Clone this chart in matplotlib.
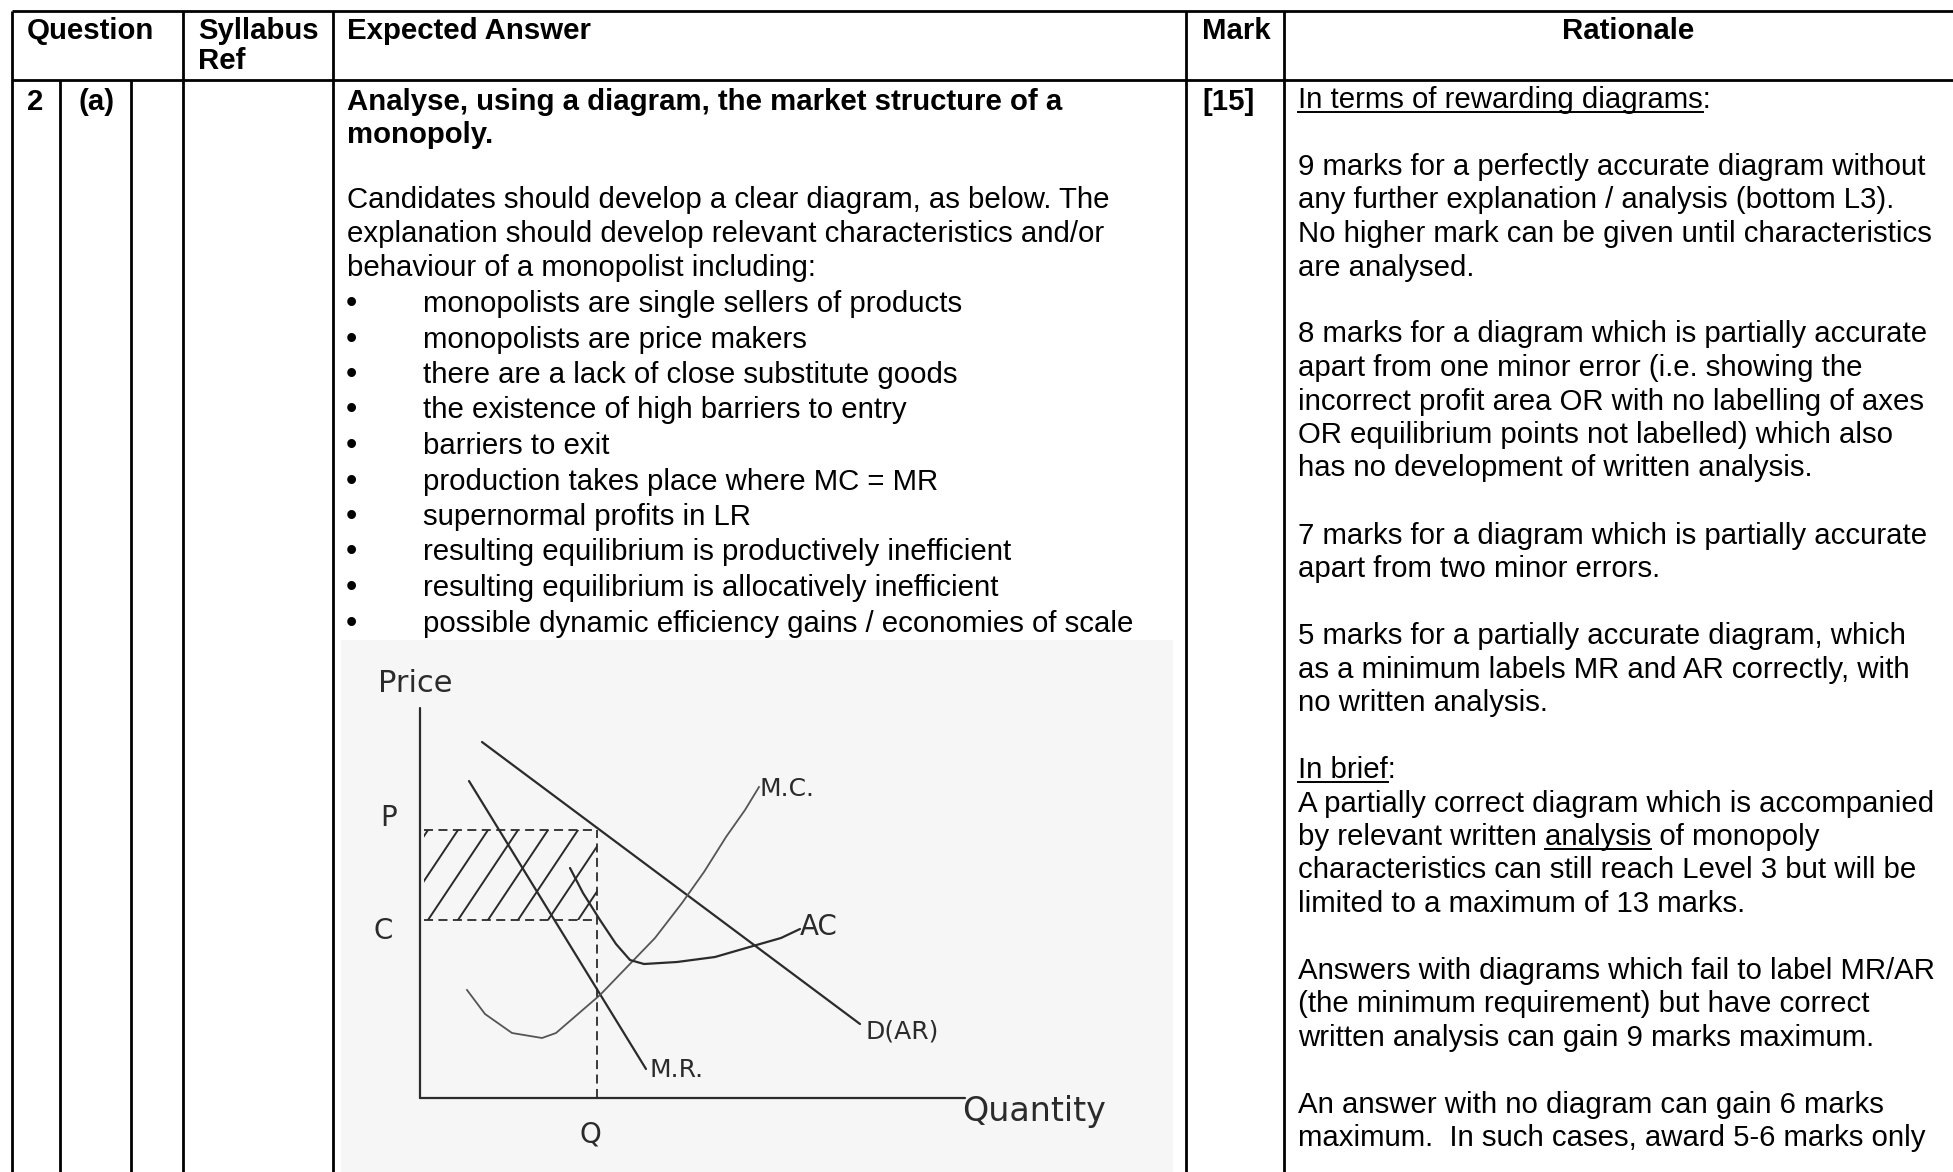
import numpy as np
import matplotlib.pyplot as plt
from matplotlib.patches import Rectangle

plt.rcParams['font.family'] = ['Liberation Sans', 'DejaVu Sans']

W, H = 1953, 1172
FS = 21.2          # table text size
PEN = '#2b2b2b'    # colour of the hand drawn diagram

# ---------------- table content ----------------
header_labels = ['Question', 'Syllabus\nRef', 'Expected Answer', 'Mark', 'Rationale']
header_x = [27, 198, 347, 1202, 1562]
col_lines = [12, 183, 333, 1186, 1284]   # rules over the full height
sub_col_lines = [60, 131]                # rules below the header only

question_no = '2'
question_part = '(a)'
mark_value = '[15]'

question_lines = ['Analyse, using a diagram, the market structure of a',
                  'monopoly.']
intro_lines = ['Candidates should develop a clear diagram, as below. The',
               'explanation should develop relevant characteristics and/or',
               'behaviour of a monopolist including:']
bullet_points = ['monopolists are single sellers of products',
                 'monopolists are price makers',
                 'there are a lack of close substitute goods',
                 'the existence of high barriers to entry',
                 'barriers to exit',
                 'production takes place where MC = MR',
                 'supernormal profits in LR',
                 'resulting equilibrium is productively inefficient',
                 'resulting equilibrium is allocatively inefficient',
                 'possible dynamic efficiency gains / economies of scale']

rationale_lines = ['In terms of rewarding diagrams:',
                   '',
                   '9 marks for a perfectly accurate diagram without',
                   'any further explanation / analysis (bottom L3).',
                   'No higher mark can be given until characteristics',
                   'are analysed.',
                   '',
                   '8 marks for a diagram which is partially accurate',
                   'apart from one minor error (i.e. showing the',
                   'incorrect profit area OR with no labelling of axes',
                   'OR equilibrium points not labelled) which also',
                   'has no development of written analysis.',
                   '',
                   '7 marks for a diagram which is partially accurate',
                   'apart from two minor errors.',
                   '',
                   '5 marks for a partially accurate diagram, which',
                   'as a minimum labels MR and AR correctly, with',
                   'no written analysis.',
                   '',
                   'In brief:',
                   'A partially correct diagram which is accompanied',
                   'by relevant written analysis of monopoly',
                   'characteristics can still reach Level 3 but will be',
                   'limited to a maximum of 13 marks.',
                   '',
                   'Answers with diagrams which fail to label MR/AR',
                   '(the minimum requirement) but have correct',
                   'written analysis can gain 9 marks maximum.',
                   '',
                   'An answer with no diagram can gain 6 marks',
                   'maximum.  In such cases, award 5-6 marks only']
rationale_underline = {0: 'In terms of rewarding diagrams',
                       20: 'In brief',
                       22: 'analysis'}

# ---------------- monopoly diagram ----------------
demand_q = [62, 440]
demand_p = [356, 74]
mr_q = [49, 226]
mr_p = [317, 29]
mc_q = [47, 65, 92, 122, 136, 158, 180, 207, 235, 262, 284, 306, 325, 339]
mc_p = [108, 84, 65, 60, 65, 84, 103, 131, 160, 195, 226, 261, 288, 311]
ac_q = [150, 163, 180, 196, 210, 224, 257, 295, 333, 361, 380]
ac_p = [230, 205, 178, 154, 138, 134, 136, 141, 152, 160, 169]
price_level = 268
cost_level = 178
output_q = 177
axis_top = 390
axis_right = 545
hatch_start = [-52, -22, 8, 38, 68, 98, 128, 158]

fig = plt.figure(figsize=(W / 100, H / 100), dpi=100)
ax = fig.add_axes([0, 0, 1, 1])
ax.set_xlim(0, W)
ax.set_ylim(H, 0)
ax.axis('off')

# table rules
lw = 2.0
ax.plot([12, W], [11, 11], color='black', lw=lw, solid_capstyle='butt')
ax.plot([12, W], [80, 80], color='black', lw=lw, solid_capstyle='butt')
for x in col_lines:
    ax.plot([x, x], [11, H], color='black', lw=lw, solid_capstyle='butt')
for x in sub_col_lines:
    ax.plot([x, x], [80, H], color='black', lw=lw, solid_capstyle='butt')

# header
for lab, x in zip(header_labels, header_x):
    for i, part in enumerate(lab.split('\n')):
        ax.text(x, 39 + 30 * i, part, fontsize=FS, fontweight='bold', va='baseline')

# question row
base0 = 110
ax.text(27, base0, question_no, fontsize=FS, fontweight='bold', va='baseline')
ax.text(78, base0, question_part, fontsize=FS, fontweight='bold', va='baseline')
ax.text(1202, base0, mark_value, fontsize=FS, fontweight='bold', va='baseline')

for k, s in enumerate(question_lines):
    ax.text(347, base0 + 33 * k, s, fontsize=FS, fontweight='bold', va='baseline')
for k, s in enumerate(intro_lines):
    ax.text(347, 208 + 34 * k, s, fontsize=FS, va='baseline')
for k, s in enumerate(bullet_points):
    y = 312 + 35.5 * k
    ax.text(346, y, '\u2022', fontsize=FS + 2, va='baseline')
    ax.text(423, y, s, fontsize=FS, va='baseline')

# rationale column with underlined pieces
r = fig.canvas.get_renderer()


def text_width(s):
    t = ax.text(0, 0, s, fontsize=FS)
    w = t.get_window_extent(renderer=r).width
    t.remove()
    return w


pitch_r = 33.5
for k, s in enumerate(rationale_lines):
    if not s:
        continue
    y = 108 + pitch_r * k
    ax.text(1298, y, s, fontsize=FS, va='baseline')
    if k in rationale_underline:
        piece = rationale_underline[k]
        end = text_width(s[:s.index(piece) + len(piece)])
        start = end - text_width(piece)
        ax.plot([1298 + start, 1298 + end], [y + 4, y + 4], color='black', lw=1.4)

# ---------------- diagram in its own axes (units = pixels from origin) ----------------
ox, oy = 420, 1098
left, top, right = 341, 640, 1173
ax2 = fig.add_axes([left / W, 0, (right - left) / W, (H - top) / H])
ax2.set_xlim(left - ox, right - ox)
ax2.set_ylim(oy - H, oy - top)
ax2.set_facecolor('#f6f6f6')
for sp in ax2.spines.values():
    sp.set_visible(False)
ax2.set_xticks([])
ax2.set_yticks([])

pen = dict(color=PEN, lw=1.6, solid_capstyle='round')
ax2.plot([0, 0], [0, axis_top], **pen)
ax2.plot([0, axis_right], [0, 0], **pen)
ax2.plot(demand_q, demand_p, **pen)
ax2.plot(mr_q, mr_p, **pen)
ax2.plot(mc_q, mc_p, color='#555555', lw=1.3)
ax2.plot(ac_q, ac_p, **pen)

dash = dict(color=PEN, lw=1.3, dashes=(5, 3))
ax2.plot([4, output_q], [price_level, price_level], **dash)
ax2.plot([4, output_q], [cost_level, cost_level], **dash)
ax2.plot([output_q, output_q], [0, price_level], **dash)

box = Rectangle((4, cost_level), output_q - 4, price_level - cost_level,
                fill=False, lw=0, transform=ax2.transData)
ax2.add_patch(box)
for q0 in hatch_start:
    ln, = ax2.plot([q0, q0 + 60], [cost_level, price_level], color=PEN, lw=1.4)
    ln.set_clip_path(box)

hand = dict(family='DejaVu Sans', color=PEN, va='center')
ax2.text(-5, 415, 'Price', fontsize=22, ha='center', **hand)
ax2.text(-31, 280, 'P', fontsize=20, ha='center', **hand)
ax2.text(-37, 167, 'C', fontsize=20, ha='center', **hand)
ax2.text(170, -36, 'Q', fontsize=20, ha='center', **hand)
ax2.text(542, -14, 'Quantity', fontsize=24, ha='left', **hand)
ax2.text(339, 309, 'M.C.', fontsize=18, ha='left', **hand)
ax2.text(380, 171, 'AC', fontsize=20, ha='left', **hand)
ax2.text(446, 66, 'D(AR)', fontsize=18, ha='left', **hand)
ax2.text(229, 28, 'M.R.', fontsize=18, ha='left', **hand)

fig.savefig('out.png', dpi=100)
